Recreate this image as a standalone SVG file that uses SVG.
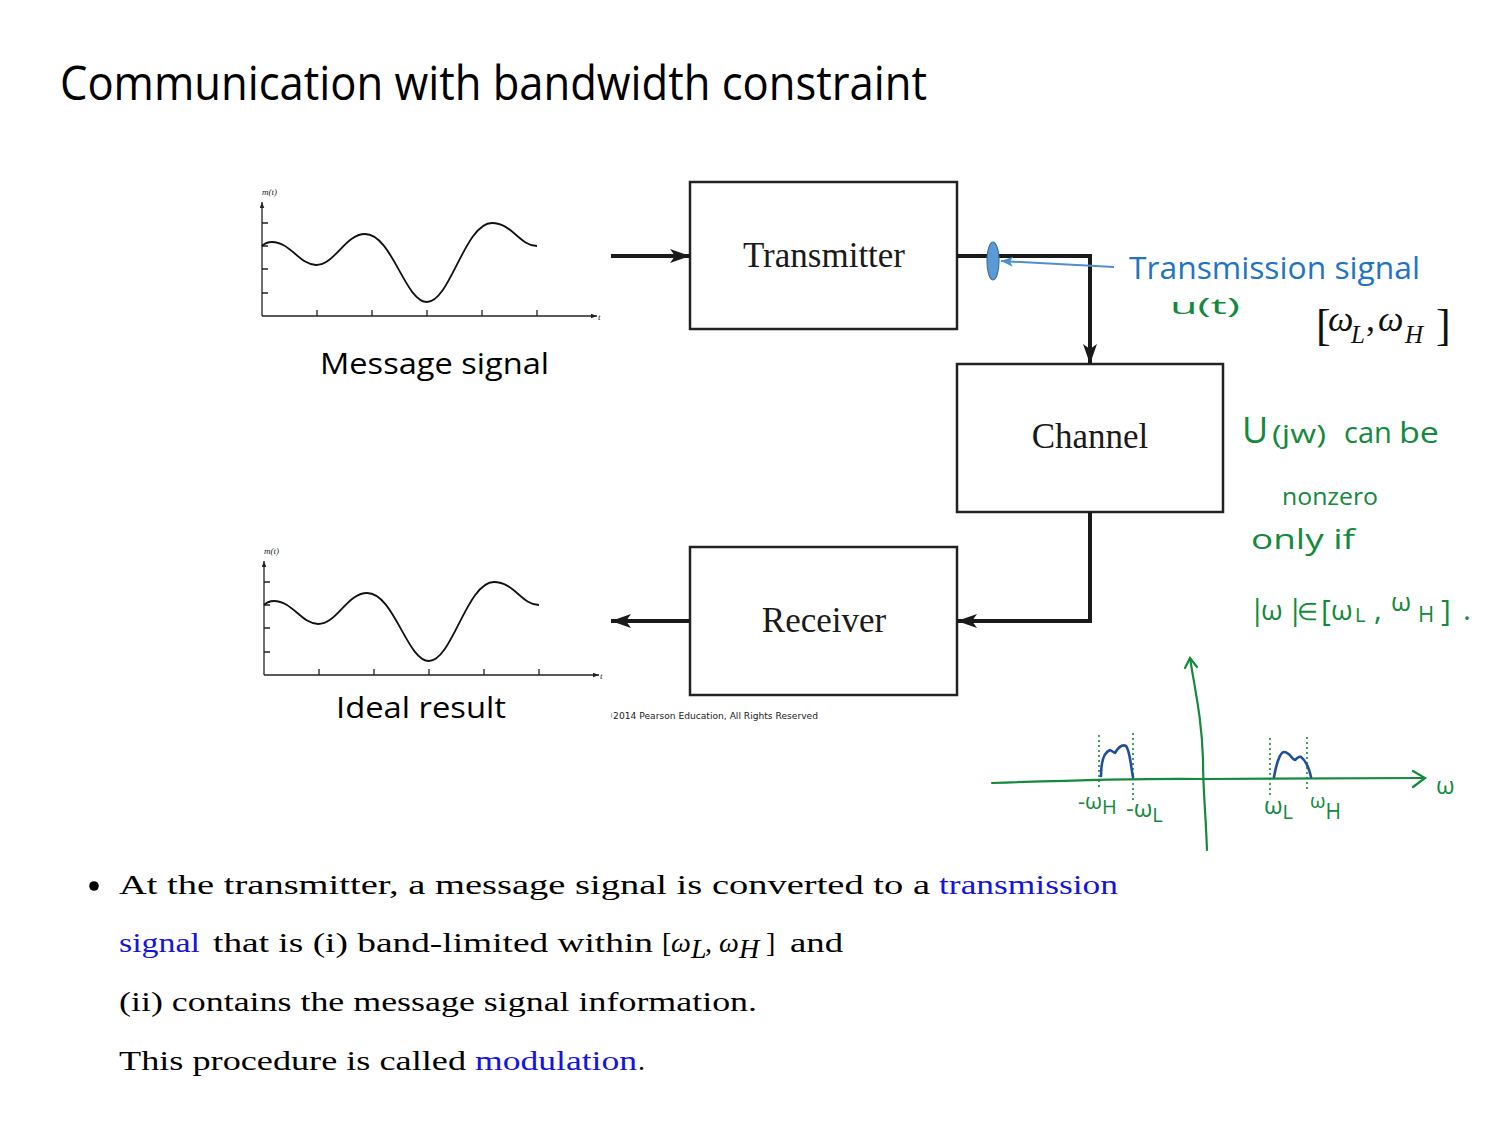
<svg xmlns="http://www.w3.org/2000/svg" width="1500" height="1125" viewBox="0 0 1500 1125">
  <defs>
    <style>
      .title { font-family: "Open Sans", "Liberation Sans", sans-serif; font-size: 48px; fill: #000; }
      .caption { font-family: "Open Sans", "Liberation Sans", sans-serif; font-size: 30px; fill: #000; }
      .box { fill: #fff; stroke: #222; stroke-width: 2.5; }
      .boxlabel { font-family: "Liberation Serif", "Times New Roman", serif; font-size: 35px; fill: #1a1a1a; text-anchor: middle; }
      .wire { fill: none; stroke: #1a1a1a; stroke-width: 4; }
      .axis { fill: none; stroke: #222; stroke-width: 1.3; }
      .curve { fill: none; stroke: #111; stroke-width: 1.8; }
      .tiny { font-family: "Liberation Serif", serif; font-style: italic; font-size: 9px; fill: #222; }
      .note { font-family: "Open Sans", "Liberation Sans", sans-serif; fill: #138a3c; }
      .green { fill: none; stroke: #138a3c; stroke-width: 2.2; stroke-linecap: round; }
      .dots { fill: none; stroke: #138a3c; stroke-width: 1.6; stroke-dasharray: 2 3; }
      .hump { fill: none; stroke: #1f4e9a; stroke-width: 2.6; stroke-linecap: round; stroke-linejoin: round; }
      .tex { font-family: "Liberation Serif", "Times New Roman", serif; font-size: 28px; fill: #000; }
      .texblue { fill: #1414e0; }
      .math { font-family: "Liberation Serif", "Times New Roman", serif; font-style: italic; }
    </style>
    <marker id="head" viewBox="0 0 20 14" markerWidth="20" markerHeight="14" refX="20" refY="7" orient="auto" markerUnits="userSpaceOnUse">
      <path d="M0,0 L20,7 L0,14 L5,7 z" fill="#1a1a1a"/>
    </marker>
    <marker id="small" viewBox="0 0 8 6" markerWidth="6" markerHeight="5" refX="8" refY="3" orient="auto" markerUnits="userSpaceOnUse">
      <path d="M0,0 L8,3 L0,6 z" fill="#222"/>
    </marker>
    <marker id="bluehead" viewBox="0 0 12 10" markerWidth="12" markerHeight="10" refX="12" refY="5" orient="auto" markerUnits="userSpaceOnUse">
      <path d="M0,0 L12,5 L0,10 L3,5 z" fill="#4f8fd0"/>
    </marker>
    <clipPath id="credit-clip">
      <rect x="611" y="705" width="260" height="20"/>
    </clipPath>
    <!-- m(t) waveform with axes -->
    <g id="waveform">
      <line class="axis" x1="262" y1="316" x2="262" y2="202" marker-end="url(#small)"/>
      <line class="axis" x1="262" y1="316" x2="597" y2="316" marker-end="url(#small)"/>
      <path class="axis" d="M262,223 h6 M262,246 h6 M262,269 h6 M262,293 h6"/>
      <path class="axis" d="M317,316 v-6 M372,316 v-6 M427,316 v-6 M482,316 v-6 M537,316 v-6"/>
      <text class="tiny" x="262" y="195">m(t)</text>
      <text class="tiny" x="598" y="320">t</text>
      <path class="curve" d="M262,246 C265,243 268,242 272,242 C290,242 300,265 316,265 C335,265 345,234 365,234 C392,234 405,302 427,302 C450,302 465,223 492,223 C512,223 520,246 537,246"/>
    </g>
  </defs>

  <text class="title" x="60" y="100" textLength="867" lengthAdjust="spacingAndGlyphs">Communication with bandwidth constraint</text>

  <g id="message-signal">
    <use href="#waveform"/>
    <text class="caption" x="320" y="374" textLength="229" lengthAdjust="spacingAndGlyphs">Message signal</text>
  </g>

  <g id="ideal-result">
    <use href="#waveform" transform="translate(2,359)"/>
    <text class="caption" x="336" y="718" textLength="170" lengthAdjust="spacingAndGlyphs">Ideal result</text>
  </g>

  <g id="transmitter">
    <rect class="box" x="690" y="182" width="267" height="147"/>
    <text class="boxlabel" x="824" y="267">Transmitter</text>
  </g>

  <g id="channel">
    <rect class="box" x="957" y="364" width="266" height="148"/>
    <text class="boxlabel" x="1090" y="448">Channel</text>
  </g>

  <g id="receiver">
    <rect class="box" x="690" y="547" width="267" height="148"/>
    <text class="boxlabel" x="824" y="632">Receiver</text>
  </g>

  <g id="connectors">
    <line class="wire" x1="611" y1="256" x2="690" y2="256" marker-end="url(#head)"/>
    <path class="wire" d="M957,256 H1090 V364" marker-end="url(#head)"/>
    <path class="wire" d="M1090,512 V621 H957" marker-end="url(#head)"/>
    <line class="wire" x1="690" y1="621" x2="611" y2="621" marker-end="url(#head)"/>
  </g>

  <text clip-path="url(#credit-clip)" x="604" y="719" font-family="DejaVu Sans, Verdana, sans-serif" font-size="8.6" fill="#222" textLength="214" lengthAdjust="spacingAndGlyphs">©2014 Pearson Education, All Rights Reserved</text>

  <g id="transmission-signal">
    <line x1="1114" y1="267" x2="1001" y2="261" stroke="#4f8fd0" stroke-width="2" marker-end="url(#bluehead)"/>
    <ellipse cx="993" cy="261" rx="6" ry="19" fill="#5b9bd5" stroke="#41719c" stroke-width="1.2"/>
    <text x="1129" y="279" font-family="Open Sans, Liberation Sans, sans-serif" font-size="31" fill="#1f74c3" textLength="291" lengthAdjust="spacingAndGlyphs">Transmission signal</text>
    <text class="note" x="1170" y="314" font-size="22" textLength="70" lengthAdjust="spacingAndGlyphs">u(t)</text>
  </g>

  <!-- band edges written as an interval -->
  <g class="math" fill="#111">
    <text x="1316" y="340" font-style="normal" font-size="44">[</text>
    <text x="1328" y="331" font-size="36">ω</text>
    <text x="1351" y="343" font-size="25">L</text>
    <text x="1366" y="331" font-style="normal" font-size="36">,</text>
    <text x="1378" y="331" font-size="36">ω</text>
    <text x="1405" y="343" font-size="25">H</text>
    <text x="1436" y="340" font-style="normal" font-size="44">]</text>
  </g>

  <g id="spectrum-note" class="note">
    <text x="1242" y="443" font-size="36">U</text>
    <text x="1272" y="443" font-size="25" textLength="54" lengthAdjust="spacingAndGlyphs">(jw)</text>
    <text x="1344" y="443" font-size="29">can</text>
    <text x="1399" y="443" font-size="29" textLength="40" lengthAdjust="spacingAndGlyphs">be</text>
    <text x="1282" y="505" font-size="24" textLength="96" lengthAdjust="spacingAndGlyphs">nonzero</text>
    <text x="1251" y="549" font-size="27" textLength="104" lengthAdjust="spacingAndGlyphs">only if</text>
    <!-- |w| in [wL, wH], laid out glyph by glyph -->
    <text font-size="30"><tspan x="1249" y="620">|</tspan><tspan x="1261" y="620" font-size="28">ω</tspan><tspan x="1287" y="620">|</tspan><tspan x="1297" y="620" font-size="24">∈</tspan><tspan x="1321" y="621">[</tspan><tspan x="1331" y="620" font-size="28">ω</tspan><tspan x="1355" y="622" font-size="20">L</tspan><tspan x="1374" y="620">,</tspan><tspan x="1391" y="611" font-size="26">ω</tspan><tspan x="1418" y="622" font-size="22">H</tspan><tspan x="1441" y="621">]</tspan><tspan x="1463" y="620">.</tspan></text>
  </g>

  <g id="spectrum">
    <path class="green" d="M992,783 C1050,781 1150,778 1205,779 L1425,778"/>
    <path class="green" d="M1413,771 L1425,778 L1413,787"/>
    <path class="green" d="M1207,850 C1205,800 1203,790 1203,760 C1202,720 1195,690 1190,658"/>
    <path class="green" d="M1185,668 L1190,658 L1197,667"/>
    <path class="dots" d="M1099,735 V790 M1133,733 V800 M1270,738 V795 M1307,737 V792"/>
    <path class="hump" d="M1101,776 C1101,760 1105,752 1110,750 L1115,753 C1118,748 1122,744 1126,746 C1130,750 1131,768 1133,777"/>
    <path class="hump" d="M1274,777 C1276,765 1280,752 1284,752 C1290,752 1292,760 1295,760 C1297,758 1299,756 1301,757 C1305,760 1309,768 1311,777"/>
    <text class="note" x="1078" y="809" font-size="22">-ω<tspan font-size="20" dy="5">H</tspan></text>
    <text class="note" x="1126" y="817" font-size="24">-ω<tspan font-size="20" dy="5">L</tspan></text>
    <text class="note" x="1264" y="814" font-size="24">ω<tspan font-size="20" dy="5">L</tspan></text>
    <text class="note" x="1310" y="808" font-size="20">ω<tspan font-size="21" dy="11">H</tspan></text>
    <text class="note" x="1436" y="794" font-size="24">ω</text>
  </g>

  <g id="summary">
    <circle cx="94" cy="886" r="4.8" fill="#000"/>
    <text class="tex" x="119" y="894" textLength="811" lengthAdjust="spacingAndGlyphs">At the transmitter, a message signal is converted to a</text>
    <text class="tex texblue" x="939" y="894" textLength="179" lengthAdjust="spacingAndGlyphs">transmission</text>
    <text class="tex texblue" x="119" y="952" textLength="81" lengthAdjust="spacingAndGlyphs">signal</text>
    <text class="tex" x="213" y="952" textLength="440" lengthAdjust="spacingAndGlyphs">that is (i) band-limited within</text>
    <text class="tex" x="662" y="952">[</text>
    <text class="tex math" x="671" y="952" font-size="30">ω</text>
    <text class="tex math" x="691" y="958" font-size="21">L</text>
    <text class="tex" x="705" y="952">,</text>
    <text class="tex math" x="719" y="952" font-size="30">ω</text>
    <text class="tex math" x="739" y="958" font-size="21">H</text>
    <text class="tex" x="766" y="952">]</text>
    <text class="tex" x="790" y="952" textLength="53" lengthAdjust="spacingAndGlyphs">and</text>
    <text class="tex" x="119" y="1011" textLength="638" lengthAdjust="spacingAndGlyphs">(ii) contains the message signal information.</text>
    <text class="tex" x="119" y="1070" textLength="347" lengthAdjust="spacingAndGlyphs">This procedure is called</text>
    <text class="tex texblue" x="475" y="1070" textLength="162" lengthAdjust="spacingAndGlyphs">modulation</text>
    <text class="tex" x="638" y="1070">.</text>
  </g>
</svg>
